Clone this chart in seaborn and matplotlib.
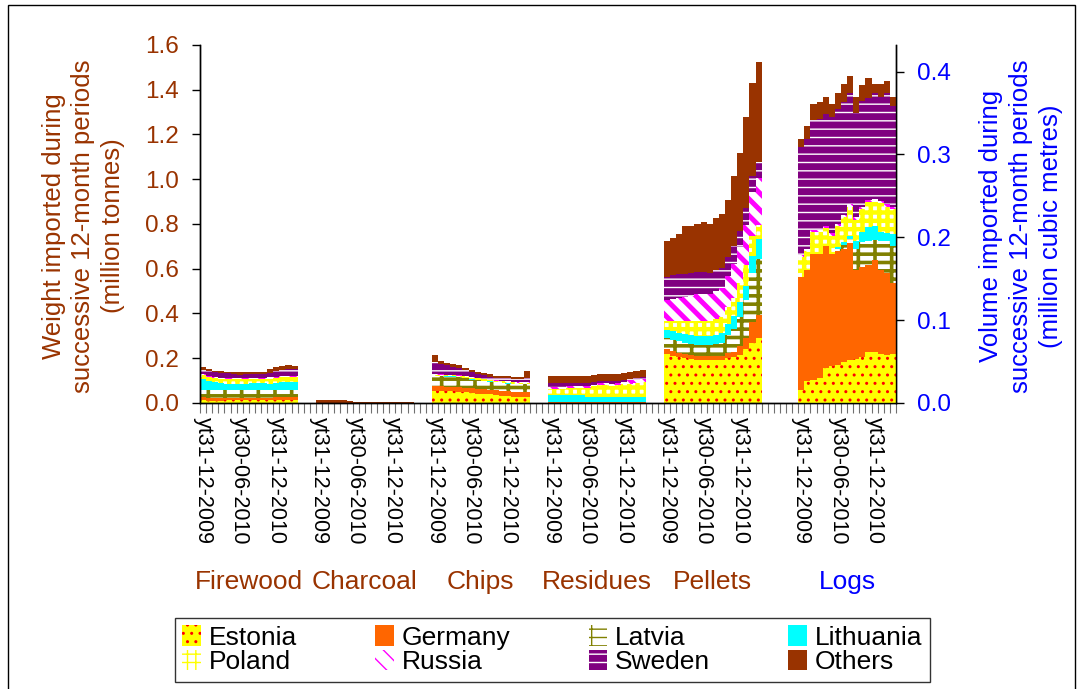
import numpy as np
import matplotlib
matplotlib.use("Agg")
import matplotlib.pyplot as plt
import matplotlib.transforms as mtransforms
from matplotlib.patches import Patch, Rectangle
import seaborn as sns

# categories and labels
products = ['Firewood', 'Charcoal', 'Chips', 'Residues', 'Pellets', 'Logs']
period_labels = ['yt31-12-2009', 'yt30-06-2010', 'yt31-12-2010']
countries = ['Estonia', 'Germany', 'Latvia', 'Lithuania',
             'Poland', 'Russia', 'Sweden', 'Others']

# 16 successive 12-month periods per product (million tonnes, Logs in million m3)
firewood = {
    'Estonia':   [0.012, 0.011, 0.011, 0.011, 0.012, 0.012, 0.012, 0.013, 0.013, 0.013, 0.013, 0.013, 0.013, 0.014, 0.014, 0.014],
    'Germany':   [0.014, 0.013, 0.012, 0.011, 0.010, 0.010, 0.010, 0.010, 0.010, 0.010, 0.011, 0.011, 0.012, 0.012, 0.012, 0.012],
    'Latvia':    [0.034, 0.035, 0.035, 0.035, 0.034, 0.034, 0.034, 0.034, 0.034, 0.034, 0.034, 0.033, 0.033, 0.033, 0.033, 0.033],
    'Lithuania': [0.048, 0.040, 0.035, 0.032, 0.030, 0.030, 0.030, 0.030, 0.031, 0.031, 0.030, 0.030, 0.032, 0.034, 0.036, 0.036],
    'Poland':    [0.018, 0.018, 0.019, 0.020, 0.020, 0.020, 0.020, 0.021, 0.021, 0.021, 0.021, 0.022, 0.022, 0.021, 0.020, 0.020],
    'Russia':    [0.005, 0.005, 0.004, 0.004, 0.004, 0.004, 0.004, 0.004, 0.004, 0.004, 0.004, 0.005, 0.005, 0.005, 0.006, 0.006],
    'Sweden':    [0.018, 0.020, 0.022, 0.022, 0.022, 0.018, 0.017, 0.016, 0.016, 0.016, 0.018, 0.022, 0.026, 0.028, 0.030, 0.030],
    'Others':    [0.013, 0.008, 0.007, 0.007, 0.008, 0.010, 0.010, 0.009, 0.011, 0.011, 0.009, 0.014, 0.017, 0.018, 0.019, 0.014],
}
charcoal = {
    'Estonia':   [0, 0, 0, 0, 0, 0, 0, 0, 0, 0, 0, 0, 0, 0, 0, 0],
    'Germany':   [0, 0, 0, 0, 0, 0, 0, 0, 0, 0, 0, 0, 0, 0, 0, 0],
    'Latvia':    [0, 0, 0, 0, 0, 0, 0, 0, 0, 0, 0, 0, 0, 0, 0, 0],
    'Lithuania': [0, 0, 0, 0, 0, 0, 0, 0, 0, 0, 0, 0, 0, 0, 0, 0],
    'Poland':    [0, 0, 0, 0, 0, 0, 0, 0, 0, 0, 0, 0, 0, 0, 0, 0],
    'Russia':    [0, 0, 0, 0, 0, 0, 0, 0, 0, 0, 0, 0, 0, 0, 0, 0],
    'Sweden':    [0, 0, 0, 0, 0, 0, 0, 0, 0, 0, 0, 0, 0, 0, 0, 0],
    'Others':    [0.012, 0.012, 0.012, 0.012, 0.012, 0.011, 0.004, 0.004, 0.004, 0.004, 0.004, 0.004, 0.004, 0.004, 0.004, 0.004],
}
chips = {
    'Estonia':   [0.055, 0.055, 0.054, 0.053, 0.050, 0.048, 0.045, 0.042, 0.040, 0.038, 0.035, 0.032, 0.030, 0.028, 0.027, 0.027],
    'Germany':   [0.020, 0.020, 0.019, 0.019, 0.020, 0.020, 0.020, 0.021, 0.021, 0.021, 0.022, 0.022, 0.022, 0.022, 0.022, 0.022],
    'Latvia':    [0.045, 0.045, 0.045, 0.045, 0.045, 0.043, 0.040, 0.040, 0.037, 0.036, 0.035, 0.035, 0.035, 0.034, 0.034, 0.034],
    'Lithuania': [0.002, 0.002, 0.002, 0.002, 0.002, 0.002, 0.002, 0.002, 0.002, 0.002, 0.002, 0.002, 0.002, 0.002, 0.002, 0.002],
    'Poland':    [0.005, 0.005, 0.005, 0.005, 0.005, 0.006, 0.006, 0.006, 0.006, 0.006, 0.006, 0.006, 0.006, 0.006, 0.006, 0.006],
    'Russia':    [0.002, 0.002, 0.002, 0.002, 0.002, 0.002, 0.002, 0.002, 0.002, 0.002, 0.002, 0.002, 0.002, 0.002, 0.002, 0.002],
    'Sweden':    [0.056, 0.047, 0.041, 0.036, 0.032, 0.027, 0.022, 0.017, 0.015, 0.013, 0.009, 0.014, 0.016, 0.013, 0.014, 0.020],
    'Others':    [0.030, 0.012, 0.012, 0.012, 0.012, 0.010, 0.010, 0.010, 0.010, 0.010, 0.010, 0.008, 0.008, 0.008, 0.008, 0.030],
}
residues = {
    'Estonia':   [0.002, 0.002, 0.002, 0.002, 0.002, 0.002, 0.002, 0.002, 0.002, 0.002, 0.002, 0.002, 0.002, 0.002, 0.002, 0.002],
    'Germany':   [0.002, 0.002, 0.002, 0.002, 0.002, 0.002, 0.002, 0.002, 0.002, 0.002, 0.002, 0.002, 0.002, 0.002, 0.002, 0.002],
    'Latvia':    [0, 0, 0, 0, 0, 0, 0, 0, 0, 0, 0, 0, 0, 0, 0, 0],
    'Lithuania': [0.030, 0.030, 0.030, 0.030, 0.030, 0.030, 0.025, 0.025, 0.025, 0.025, 0.025, 0.025, 0.025, 0.025, 0.025, 0.025],
    'Poland':    [0.030, 0.030, 0.030, 0.032, 0.035, 0.035, 0.040, 0.045, 0.050, 0.050, 0.048, 0.050, 0.055, 0.058, 0.062, 0.065],
    'Russia':    [0.008, 0.008, 0.008, 0.008, 0.006, 0.006, 0.006, 0.008, 0.010, 0.010, 0.010, 0.012, 0.012, 0.014, 0.014, 0.014],
    'Sweden':    [0.018, 0.018, 0.018, 0.016, 0.015, 0.015, 0.014, 0.012, 0.010, 0.010, 0.010, 0.008, 0.008, 0.008, 0.008, 0.008],
    'Others':    [0.030, 0.030, 0.030, 0.030, 0.030, 0.030, 0.033, 0.031, 0.031, 0.031, 0.031, 0.031, 0.031, 0.031, 0.032, 0.032],
}
pellets = {
    'Estonia':   [0.220, 0.210, 0.205, 0.200, 0.195, 0.190, 0.190, 0.190, 0.190, 0.190, 0.200, 0.205, 0.215, 0.240, 0.270, 0.290],
    'Germany':   [0.022, 0.022, 0.020, 0.020, 0.020, 0.020, 0.020, 0.020, 0.020, 0.020, 0.022, 0.025, 0.040, 0.050, 0.090, 0.105],
    'Latvia':    [0.050, 0.050, 0.050, 0.050, 0.050, 0.050, 0.050, 0.050, 0.055, 0.060, 0.080, 0.100, 0.130, 0.170, 0.220, 0.250],
    'Lithuania': [0.035, 0.040, 0.040, 0.040, 0.040, 0.040, 0.040, 0.040, 0.040, 0.045, 0.050, 0.060, 0.065, 0.065, 0.075, 0.090],
    'Poland':    [0.040, 0.045, 0.050, 0.055, 0.060, 0.065, 0.065, 0.065, 0.070, 0.070, 0.075, 0.080, 0.085, 0.090, 0.090, 0.060],
    'Russia':    [0.095, 0.100, 0.105, 0.110, 0.115, 0.120, 0.120, 0.120, 0.125, 0.130, 0.140, 0.150, 0.160, 0.180, 0.200, 0.210],
    'Sweden':    [0.100, 0.105, 0.105, 0.100, 0.100, 0.100, 0.100, 0.095, 0.095, 0.090, 0.085, 0.080, 0.075, 0.075, 0.070, 0.070],
    'Others':    [0.162, 0.164, 0.180, 0.215, 0.210, 0.215, 0.225, 0.220, 0.231, 0.238, 0.255, 0.315, 0.346, 0.407, 0.414, 0.450],
}
logs = {
    'Estonia':   [0.016, 0.026, 0.028, 0.030, 0.042, 0.045, 0.046, 0.050, 0.052, 0.053, 0.055, 0.061, 0.061, 0.059, 0.058, 0.059],
    'Germany':   [0.136, 0.134, 0.152, 0.150, 0.147, 0.135, 0.137, 0.136, 0.141, 0.108, 0.109, 0.105, 0.111, 0.102, 0.099, 0.086],
    'Latvia':    [0, 0, 0, 0, 0, 0, 0.003, 0.005, 0.005, 0.025, 0.030, 0.030, 0.025, 0.035, 0.038, 0.045],
    'Lithuania': [0, 0, 0, 0, 0, 0, 0.002, 0.003, 0.004, 0.010, 0.012, 0.016, 0.016, 0.010, 0.010, 0.014],
    'Poland':    [0.024, 0.024, 0.026, 0.026, 0.022, 0.022, 0.025, 0.030, 0.035, 0.025, 0.028, 0.030, 0.030, 0.035, 0.032, 0.030],
    'Russia':    [0.002, 0.002, 0.003, 0.003, 0.003, 0.003, 0.003, 0.003, 0.003, 0.003, 0.003, 0.003, 0.003, 0.003, 0.003, 0.003],
    'Sweden':    [0.131, 0.133, 0.132, 0.134, 0.135, 0.140, 0.139, 0.136, 0.134, 0.126, 0.128, 0.123, 0.128, 0.125, 0.134, 0.121],
    'Others':    [0.010, 0.015, 0.020, 0.020, 0.020, 0.016, 0.019, 0.022, 0.020, 0.019, 0.019, 0.024, 0.011, 0.016, 0.014, 0.011],
}
groups = [firewood, charcoal, chips, residues, pellets, logs]

# look of each country (Excel style fills)
face_colors = ['#FFFF00', '#FF6600', '#FFFFFF', '#00FFFF',
               '#FFFFFF', '#FFFFFF', '#800080', '#993300']
hatch_colors = ['#FF0000', '#FF6600', '#808000', '#00FFFF',
                '#FFFF00', '#FF00FF', '#FFFFFF', '#993300']
hatches = ['..', None, '-+', None, '++', '\\\\', '--', None]
hatch_widths = [1.0, 1.0, 2.6, 1.0, 3.2, 3.6, 1.0, 1.0]

brown = '#993300'
blue = '#0000FF'

# slot layout of the category axis
group_start = [0, 19, 38, 57, 76, 98]
n_slots = 114

sns.set_style('white')
plt.rcParams['font.family'] = ['Liberation Sans', 'DejaVu Sans']
plt.rcParams['text.color'] = 'black'
plt.rcParams['xtick.color'] = 'black'
plt.rcParams['ytick.color'] = 'black'

fig = plt.figure(figsize=(10.84, 6.89), dpi=100)
ax = fig.add_axes([0.1845, 0.4151, 0.642, 0.5196])
ax2 = ax.twinx()

for g, data in enumerate(groups):
    target = ax2 if products[g] == 'Logs' else ax
    x = group_start[g] + np.arange(16)
    bottom = np.zeros(16)
    for c, name in enumerate(countries):
        vals = np.array(data[name], dtype=float)
        with plt.rc_context({'hatch.linewidth': hatch_widths[c]}):
            target.bar(x, vals, width=1.0, bottom=bottom, align='edge',
                       color=face_colors[c], edgecolor=hatch_colors[c],
                       hatch=hatches[c], linewidth=0)
        bottom += vals

ax.set_xlim(0, n_slots)
ax.set_ylim(0, 1.6)
ax2.set_ylim(0, 0.432)

# y axes
ax.set_yticks(np.arange(0, 1.61, 0.2))
ax.set_yticklabels(['%.1f' % v for v in np.arange(0, 1.61, 0.2)])
ax.tick_params(axis='y', labelsize=17.5, labelcolor=brown, length=6,
               width=1, color='black', direction='out', pad=9, left=True)
ax2.set_yticks([0, 0.1, 0.2, 0.3, 0.4])
ax2.set_yticklabels(['0.0', '0.1', '0.2', '0.3', '0.4'])
ax2.tick_params(axis='y', labelsize=17.5, labelcolor=blue, length=6,
                width=1, color='black', direction='out', pad=9, right=True)

# x axis: tick marks on every slot, labels every 6 periods
major = []
for s in group_start:
    major += [s + 0.5, s + 6.5, s + 12.5]
ax.set_xticks(major)
ax.set_xticklabels(period_labels * len(products), color='black')
ax.set_xticks(np.arange(0, n_slots + 1), minor=True)
ax.tick_params(axis='x', which='major', length=0, pad=10,
               labelsize=15.5, labelrotation=270)
ax.tick_params(axis='x', which='minor', length=7, width=0.8,
               color='#707070', direction='out', bottom=True)

for a in (ax, ax2):
    a.spines['top'].set_visible(False)
    for side in ('left', 'right', 'bottom'):
        a.spines[side].set_color('black')
        a.spines[side].set_linewidth(1)
    a.grid(False)

# product names under the tick labels
trans = mtransforms.blended_transform_factory(ax.transData, fig.transFigure)
for g, name in enumerate(products):
    ax.text(group_start[g] + 8, 0.155, name, transform=trans,
            ha='center', va='center', fontsize=19,
            color=blue if name == 'Logs' else brown)

# axis titles
fig.text(0.077, 0.672, 'Weight imported during\nsuccessive 12-month periods\n(million tonnes)',
         rotation=90, ha='center', va='center', multialignment='center',
         fontsize=18.5, color=brown, linespacing=1.3)
fig.text(0.942, 0.672, 'Volume imported during\nsuccessive 12-month periods\n(million cubic metres)',
         rotation=90, ha='center', va='center', multialignment='center',
         fontsize=18.5, color=blue, linespacing=1.3)

# legend (column-major order for 2 rows x 4 columns)
order = [0, 4, 1, 5, 2, 6, 3, 7]
handles = []
for c in order:
    with plt.rc_context({'hatch.linewidth': hatch_widths[c]}):
        handles.append(Patch(facecolor=face_colors[c], edgecolor=hatch_colors[c],
                             hatch=hatches[c], linewidth=0))
labels = [countries[c] for c in order]
leg = fig.legend(handles, labels, ncol=4, loc='center',
                 bbox_to_anchor=(0.161, 0.004, 0.697, 0.106), mode='expand',
                 frameon=True, fancybox=False, shadow=False, fontsize=19,
                 handlelength=0.7, handleheight=0.8, handletextpad=0.3,
                 labelspacing=0.0, borderpad=0.3, borderaxespad=0,
                 columnspacing=1.0)
leg.get_frame().set_edgecolor('black')
leg.get_frame().set_linewidth(1)
for t in leg.get_texts():
    t.set_color('black')

# chart border
fig.add_artist(Rectangle((0.0074, -0.02), 0.984, 1.0127, transform=fig.transFigure,
                         fill=False, edgecolor='black', linewidth=1))

fig.savefig('out.png', dpi=100)
